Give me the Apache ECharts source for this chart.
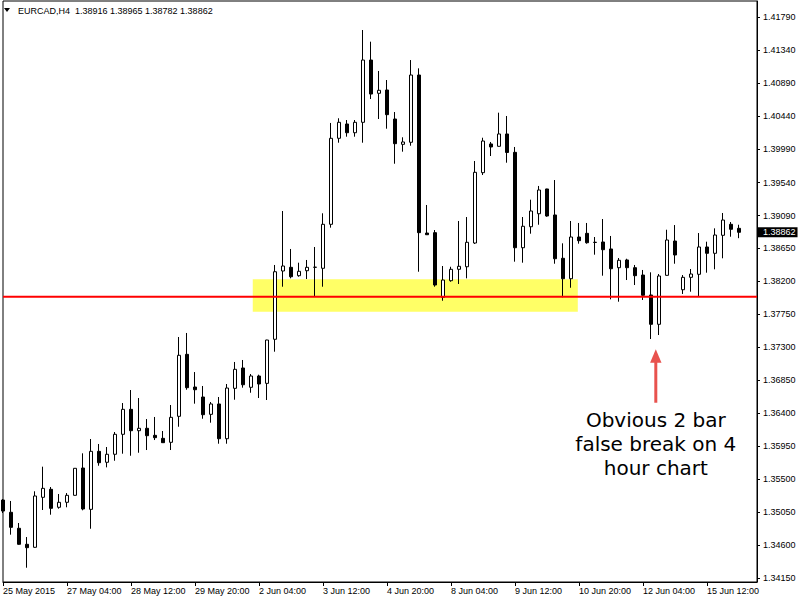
<!DOCTYPE html>
<html>
<head>
<meta charset="utf-8">
<script src="https://cdn.jsdelivr.net/npm/echarts@6/dist/echarts.min.js"></script>
<style>
html,body{margin:0;padding:0;background:#ffffff;}
#chart{width:800px;height:600px;}
</style>
</head>
<body>
<div id="chart"></div>
<script>
// ---------- data ----------
const SYMBOL = 'EURCAD,H4';
const X_LABELS = ['25 May 2015','27 May 04:00','28 May 12:00','29 May 20:00','2 Jun 04:00','3 Jun 12:00',
  '4 Jun 20:00','8 Jun 04:00','9 Jun 12:00','10 Jun 20:00','12 Jun 04:00','15 Jun 12:00'];
const X_LABEL_STEP = 8; // one time label every 8 H4 bars

const OPEN = [1.35216,1.35049,1.34831,1.34613,1.34572,1.35253,1.35362,1.35117,1.35185,1.35280,
  1.35652,1.35089,1.35879,1.35730,1.35839,1.36111,1.36451,1.36160,1.36193,1.36097,
  1.36056,1.36002,1.36356,1.37200,1.36755,1.36619,1.36383,1.36524,1.36051,1.36737,
  1.37014,1.36751,1.36905,1.36805,1.37405,1.38335,1.38385,1.38271,1.38339,1.38385,
  1.38372,1.38971,1.40142,1.40337,1.40218,1.40360,1.41208,1.40755,1.40800,1.40405,
  1.40060,1.40088,1.41004,1.38852,1.38857,1.37977,1.38203,1.38358,1.38393,1.38716,
  1.39674,1.40065,1.40033,1.40201,1.39951,1.38652,1.38938,1.39115,1.39452,1.39098,
  1.38508,1.38230,1.38798,1.38848,1.38726,1.38730,1.38635,1.38380,1.38485,1.38380,
  1.38280,1.38008,1.37609,1.38276,1.38743,1.38080,1.38249,1.38290,1.38662,1.38576,
  1.38821,1.38971,1.38916];
const HIGH = [1.35230,1.35203,1.34903,1.34712,1.35335,1.35670,1.35393,1.35298,1.35311,1.35650,
  1.35852,1.36047,1.35979,1.35938,1.36142,1.36537,1.36714,1.36605,1.36319,1.36347,
  1.36156,1.36510,1.37436,1.37491,1.36959,1.36769,1.36551,1.36619,1.36796,1.37096,
  1.37123,1.36932,1.36923,1.37398,1.38417,1.39152,1.38635,1.38448,1.38485,1.38662,
  1.39121,1.40351,1.40415,1.40391,1.40391,1.41617,1.41458,1.41059,1.40936,1.40500,
  1.40156,1.41208,1.41095,1.39234,1.38893,1.38403,1.38393,1.39016,1.39070,1.39833,
  1.40150,1.40092,1.40491,1.40446,1.40024,1.39070,1.39306,1.39493,1.39455,1.39574,
  1.38712,1.39016,1.38989,1.38989,1.38798,1.39043,1.38812,1.38512,1.38502,1.38417,
  1.38349,1.38317,1.38294,1.38897,1.38961,1.38280,1.38362,1.38852,1.38734,1.38916,
  1.39125,1.39002,1.38965];
const LOW = [1.35039,1.34744,1.34607,1.34294,1.34567,1.35080,1.35016,1.35098,1.35117,1.35278,
  1.35076,1.34825,1.35683,1.35661,1.35751,1.35847,1.35819,1.35860,1.35897,1.36033,
  1.35995,1.35897,1.36214,1.36718,1.36528,1.36323,1.36269,1.35983,1.35983,1.36582,
  1.36746,1.36677,1.36605,1.36578,1.37236,1.38121,1.38235,1.38257,1.38226,1.37994,
  1.38121,1.38925,1.40082,1.40164,1.40164,1.40082,1.40677,1.40405,1.40273,1.39796,
  1.39960,1.40041,1.38325,1.38826,1.38121,1.37930,1.38189,1.38158,1.38235,1.38703,
  1.39642,1.39901,1.40030,1.39810,1.38462,1.38448,1.38843,1.38965,1.39074,1.38434,
  1.37977,1.38107,1.38707,1.38707,1.38557,1.38271,1.37949,1.37917,1.38212,1.38144,
  1.37940,1.37409,1.37463,1.38273,1.38434,1.38022,1.38053,1.37994,1.38312,1.38358,
  1.38508,1.38802,1.38782];
const CLOSE = [1.35066,1.34844,1.34613,1.34567,1.35271,1.35375,1.35103,1.35185,1.35280,1.35648,
  1.35094,1.35879,1.35724,1.35839,1.36111,1.36451,1.36160,1.36193,1.36092,1.36065,
  1.35997,1.36342,1.37187,1.36746,1.36718,1.36378,1.36524,1.36051,1.36741,1.36996,
  1.36786,1.36905,1.36796,1.37395,1.38325,1.38403,1.38257,1.38331,1.38385,1.38387,
  1.38971,1.40142,1.40360,1.40218,1.40360,1.41208,1.40745,1.40796,1.40464,1.40069,
  1.40092,1.41004,1.38857,1.38829,1.38144,1.38212,1.38358,1.38399,1.38726,1.39679,
  1.40105,1.40024,1.40201,1.39949,1.38652,1.38944,1.39152,1.39438,1.39084,1.38502,
  1.38230,1.38798,1.38748,1.38720,1.38724,1.38625,1.38366,1.38481,1.38380,1.38271,
  1.38004,1.37609,1.38267,1.38757,1.38553,1.38249,1.38294,1.38662,1.38576,1.38825,
  1.39029,1.38903,1.38862];

const Y_TICKS = [1.41790,1.41340,1.40890,1.40440,1.39990,1.39540,1.39090,1.38650,1.38200,
  1.37750,1.37300,1.36850,1.36400,1.35950,1.35500,1.35050,1.34600,1.34150];

const LEVEL = 1.37984;                          // red horizontal line
const ZONE = [31.22, 71.85, 1.38222, 1.37781];  // from bar, to bar, top price, bottom price
const ARROW = [81.6, 1.36541, 1.37269];         // bar position, tail price, tip price
const NOTE_LINES = ['Obvious 2 bar', 'false break on 4', 'hour chart'];

// ---------- chart ----------
const LAST = OPEN.length - 1;
const candleData = OPEN.map((o, i) => [i, o, CLOSE[i], LOW[i], HIGH[i]]);
const X_TICKS = X_LABELS.map((_, k) => k * X_LABEL_STEP);
const HEADER = SYMBOL + '  ' + [OPEN[LAST], HIGH[LAST], LOW[LAST], CLOSE[LAST]].map(v => v.toFixed(5)).join(' ');
const FONT = 'Liberation Sans';
const Y_MIN = 1.340996, Y_MAX = 1.420120;

const chart = echarts.init(document.getElementById('chart'), null, {renderer: 'svg', width: 800, height: 600});
chart.setOption({
  animation: false,
  backgroundColor: '#ffffff',
  grid: {left: 3, right: 43, top: 1, bottom: 18, containLabel: false, outerBoundsMode: 'none',
    show: true, borderColor: '#000000', borderWidth: 1, backgroundColor: 'transparent'},
  xAxis: [{
    type: 'value', min: 0, max: 94.25,
    axisLine: {show: true, onZero: false, lineStyle: {color: '#000000', width: 1}},
    axisTick: {show: true, inside: false, length: 4, customValues: X_TICKS, lineStyle: {color: '#000000'}},
    axisLabel: {show: true, customValues: X_TICKS, formatter: v => X_LABELS[Math.round(v / X_LABEL_STEP)],
      align: 'left', margin: 4, color: '#000000', fontFamily: FONT, fontSize: 9},
    splitLine: {show: false}
  }],
  yAxis: [{
    type: 'value', position: 'right', min: Y_MIN, max: Y_MAX,
    axisLine: {show: true, onZero: false, lineStyle: {color: '#000000', width: 1}},
    axisTick: {show: true, inside: false, length: 3, customValues: Y_TICKS, lineStyle: {color: '#000000'}},
    axisLabel: {show: true, customValues: Y_TICKS, formatter: v => v.toFixed(5), margin: 6,
      color: '#000000', fontFamily: FONT, fontSize: 9},
    splitLine: {show: false}
  }, {
    type: 'value', position: 'right', min: Y_MIN, max: Y_MAX,
    axisLine: {show: false}, axisTick: {show: false}, splitLine: {show: false},
    axisLabel: {show: true, customValues: [CLOSE[LAST]], formatter: v => v.toFixed(5), margin: 1,
      color: '#ffffff', backgroundColor: '#000000', padding: [1, 2, 0, 5], lineHeight: 9,
      fontFamily: FONT, fontSize: 9}
  }],
  graphic: [
    {type: 'polygon', shape: {points: [[4, 8], [10, 8], [7, 12]]}, style: {fill: '#000000'}, silent: true},
    {type: 'text', x: 18, y: 11, silent: true,
      style: {text: HEADER, fill: '#000000', font: '9px "Liberation Sans"', verticalAlign: 'middle'}}
  ],
  series: [
    {
      type: 'custom', name: 'zone', silent: true, z: 1,
      data: [ZONE], encode: {x: [0, 1], y: [2, 3]},
      renderItem: (params, api) => {
        const p1 = api.coord([api.value(0), api.value(2)]);
        const p2 = api.coord([api.value(1), api.value(3)]);
        return {type: 'rect', shape: {x: p1[0], y: p1[1], width: p2[0] - p1[0], height: p2[1] - p1[1]},
          style: {fill: '#ffff66'}};
      }
    },
    {
      type: 'candlestick', name: SYMBOL, layout: 'horizontal', z: 2, silent: true,
      data: candleData, encode: {x: 0, y: [1, 2, 3, 4]},
      barWidth: 4,
      itemStyle: {color: '#ffffff', color0: '#000000', borderColor: '#000000', borderColor0: '#000000', borderWidth: 1}
    },
    {
      type: 'custom', name: 'level', silent: true, z: 3,
      data: [[0, LEVEL]], encode: {x: 0, y: 1},
      renderItem: (params, api) => {
        const y = api.coord([0, api.value(1)])[1];
        const cs = params.coordSys;
        return {type: 'line', shape: {x1: cs.x, y1: y, x2: cs.x + cs.width, y2: y},
          style: {stroke: '#ff0000', lineWidth: 2}};
      }
    },
    {
      type: 'custom', name: 'note', silent: true, z: 4,
      data: [ARROW], encode: {x: 0, y: [1, 2]},
      renderItem: (params, api) => {
        const tail = api.coord([api.value(0), api.value(1)]);
        const tip = api.coord([api.value(0), api.value(2)]);
        const headLen = 13.5, headHalf = 5.7, lineGap = 24;
        const children = [
          {type: 'line', shape: {x1: tail[0], y1: tail[1], x2: tip[0], y2: tip[1] + headLen - 1},
            style: {stroke: '#e8524e', lineWidth: 3}},
          {type: 'polygon', shape: {points: [[tip[0], tip[1]], [tip[0] - headHalf, tip[1] + headLen], [tip[0] + headHalf, tip[1] + headLen]]},
            style: {fill: '#e8524e'}}
        ];
        NOTE_LINES.forEach((t, k) => {
          children.push({type: 'text', x: tail[0], y: tail[1] + 17 + k * lineGap,
            style: {text: t, fill: '#000000', font: '20px "DejaVu Sans"', align: 'center', verticalAlign: 'middle'}});
        });
        return {type: 'group', children};
      }
    }
  ]
});
</script>
</body>
</html>
